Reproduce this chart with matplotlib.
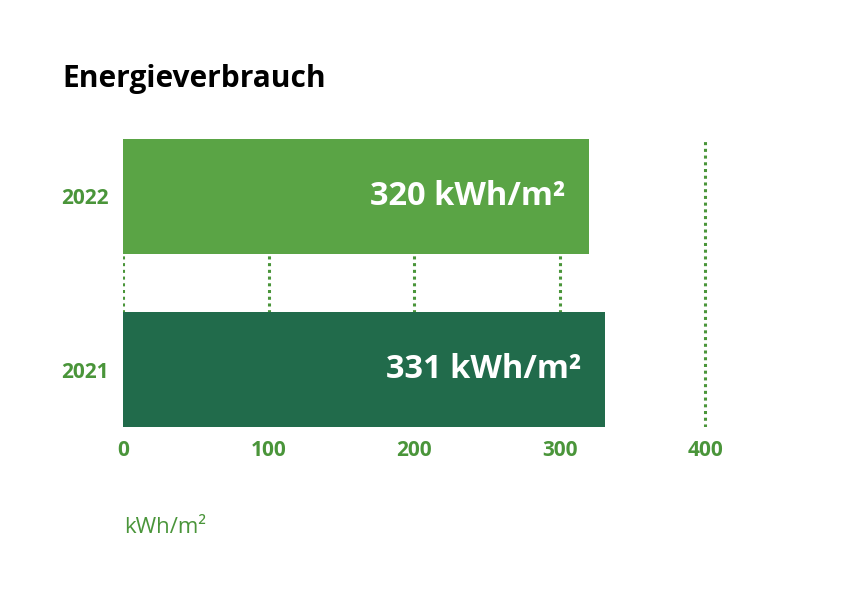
import matplotlib
matplotlib.use("Agg")
import matplotlib.pyplot as plt

plt.rcParams['font.family'] = ['Open Sans', 'DejaVu Sans']

### data
years = ["2021", "2022"]
values = [331, 320]
bar_labels = ["331 kWh/m²", "320 kWh/m²"]
x_ticks = [0, 100, 200, 300, 400]
unit_label = "kWh/m²"
title = "Energieverbrauch"

light_green = "#5aa445"
dark_green = "#216b4b"
text_green = "#4a953a"
bar_colors = [dark_green, light_green]

W, H = 849, 600
fig = plt.figure(figsize=(W/100, H/100), dpi=100)

# axes placed in pixel coords: x 0 -> 123 px, 400 -> 705 px
x0, x400 = 123, 705
xmax = 450
ax_right = x0 + (x400 - x0) * xmax / 400
top_px, bot_px = 139, 427
ax = fig.add_axes([x0/W, 1 - bot_px/H, (ax_right - x0)/W, (bot_px - top_px)/H])

bar_h = 0.66
ypos = list(range(len(years)))
ax.barh(ypos, values, height=bar_h, color=bar_colors, zorder=2)

# dotted grid lines behind the bars
for t in x_ticks:
    ax.axvline(t, color=text_green, linestyle=(0, (1, 1.2)), linewidth=2.2, zorder=1)

for y, v, lab in zip(ypos, values, bar_labels):
    ax.text(v - 16, y, lab, ha="right", va="center", color="white",
            fontsize=23.5, fontweight="bold", zorder=3)

ax.set_xlim(0, xmax)
ax.set_ylim(-bar_h/2, len(years) - 1 + bar_h/2)
ax.set_xticks(x_ticks)
ax.set_xticklabels([str(t) for t in x_ticks])
ax.set_yticks(ypos)
ax.set_yticklabels(years)
ax.tick_params(length=0, labelsize=15, labelcolor=text_green)
ax.tick_params(axis="x", pad=9)
ax.tick_params(axis="y", pad=10)
for lbl in ax.get_xticklabels() + ax.get_yticklabels():
    lbl.set_fontweight("bold")
for s in ax.spines.values():
    s.set_visible(False)

fig.text(62/W, 1 - 87/H, title, fontsize=21.5, fontweight="bold", color="black",
         ha="left", va="baseline")
fig.text(124/W, 1 - 533/H, unit_label, fontsize=16, color=text_green,
         ha="left", va="baseline")

fig.savefig("out.png", dpi=100, facecolor="white")
